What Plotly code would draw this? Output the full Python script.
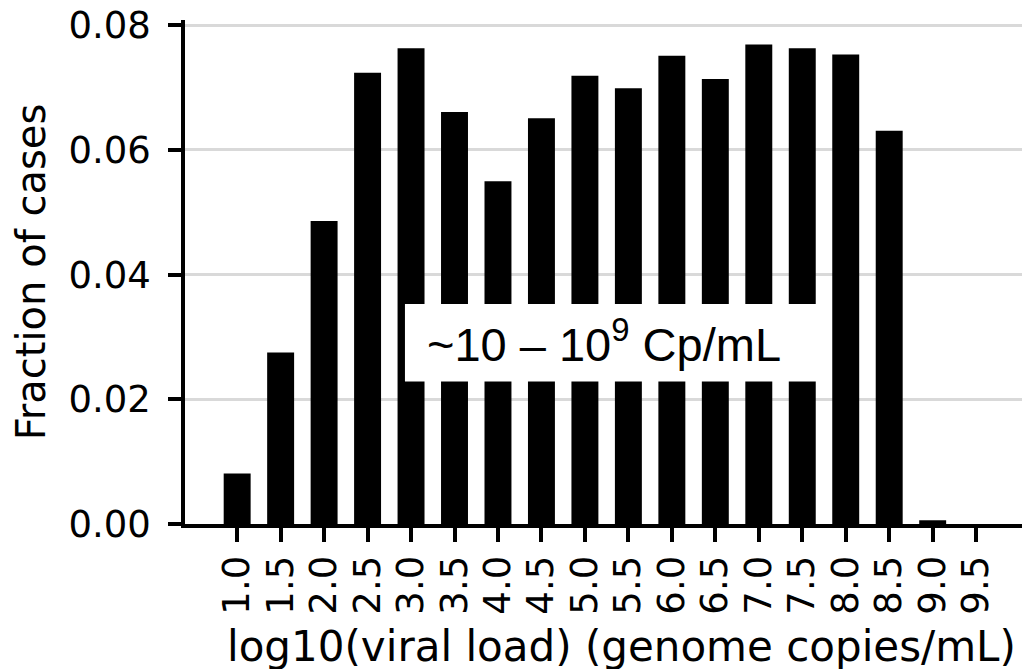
import plotly.graph_objects as go

categories = ["1.0", "1.5", "2.0", "2.5", "3.0", "3.5", "4.0", "4.5", "5.0",
              "5.5", "6.0", "6.5", "7.0", "7.5", "8.0", "8.5", "9.0", "9.5"]
fractions = [0.0081, 0.0275, 0.0486, 0.0724, 0.0763, 0.0661, 0.0550, 0.0651, 0.0719,
             0.0699, 0.0751, 0.0714, 0.0769, 0.0763, 0.0753, 0.0631, 0.0006, 0.0]
y_ticks = [0.0, 0.02, 0.04, 0.06, 0.08]
note_text = "~10 – 10<sup>9</sup> Cp/mL"
x_title = "log10(viral load) (genome copies/mL)"
y_title = "Fraction of cases"

FONT = "DejaVu Sans"

fig = go.Figure()
fig.add_trace(go.Bar(
    x=categories, y=fractions,
    marker=dict(color="black", line=dict(width=0)),
    width=0.62,
))

# white label box covering the bars
fig.add_shape(type="rect", xref="x", yref="y",
              x0=3.86, x1=13.45, y0=0.02286, y1=0.03529,
              fillcolor="white", line=dict(width=0), layer="above")
fig.add_annotation(x=8.45, y=0.0293, xref="x", yref="y", text=note_text,
                   showarrow=False, xanchor="center", yanchor="middle",
                   font=dict(family="Liberation Sans, Arial", size=47, color="black"))

# x-axis title (placed as annotation, slightly right of the axis centre)
fig.add_annotation(x=0.521, y=0, xref="paper", yref="paper", text=x_title,
                   showarrow=False, xanchor="center", yanchor="middle", yshift=-122,
                   font=dict(family=FONT, size=42, color="black"))

fig.update_layout(
    width=1022, height=669,
    margin=dict(l=185, r=0, t=20, b=145),
    plot_bgcolor="white", paper_bgcolor="white",
    showlegend=False,
    font=dict(family=FONT, color="black"),
)
fig.update_xaxes(
    type="category", range=[-1.2, 18.055], automargin=False,
    tickmode="array", tickvals=categories, ticktext=categories,
    showline=True, linecolor="black", linewidth=4,
    ticks="outside", ticklen=14, tickwidth=4, tickcolor="black",
    tickangle=-90, tickfont=dict(family=FONT, size=37), ticklabelstandoff=-1,
    showgrid=False, zeroline=False,
)
fig.update_yaxes(
    range=[0, 0.08085], tickvals=y_ticks, tickformat=".2f", automargin=False,
    showline=True, linecolor="black", linewidth=3.5,
    ticks="outside", ticklen=13, tickwidth=3.5, tickcolor="black",
    tickfont=dict(family=FONT, size=37), ticklabelstandoff=10,
    title=dict(text=y_title, font=dict(family=FONT, size=40), standoff=11),
    showgrid=True, gridcolor="#d9d9d9", gridwidth=2.5,
    zeroline=False,
)

fig.write_html(
    "out.html",
    config={"displayModeBar": False},
    post_script="document.body.style.margin='0';document.body.style.overflow='hidden';",
)
